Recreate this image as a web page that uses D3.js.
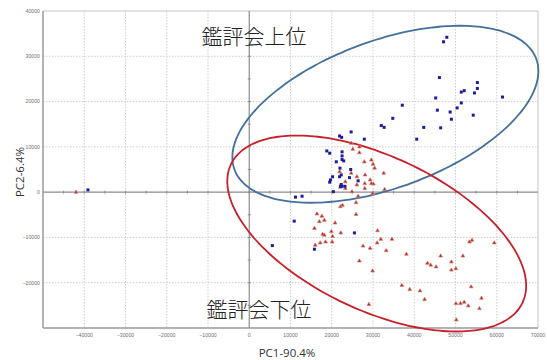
<!DOCTYPE html>
<html>
<head>
<meta charset="utf-8">
<script src="https://cdn.jsdelivr.net/npm/d3@7"></script>
<style>
  html, body { margin: 0; padding: 0; background: #fff; }
  svg { display: block; }
</style>
</head>
<body>
<svg id="chart" width="547" height="360"></svg>
<script>
// PCA score plot: PC1 vs PC2, upper-ranked vs lower-ranked samples
const xTicks = [-40000, -30000, -20000, -10000, 0, 10000, 20000, 30000, 40000, 50000, 60000, 70000];
const yTicks = [-20000, -10000, 0, 10000, 20000, 30000, 40000];
const xLabel = "PC1-90.4%";
const yLabel = "PC2-6.4%";
const groupLabels = ["鑑評会上位", "鑑評会下位"];

// Upper-ranked samples (PC1, PC2)
const upperScores = [
  [47100,33200],[47900,34200],[46100,25300],[55300,24200],[55300,22900],[52100,22400],
  [51400,22100],[54600,21900],[61400,21000],[45200,20800],[51400,19700],[37100,19200],
  [50400,18600],[45600,18100],[48700,17700],[54300,17000],[34800,16300],[49000,16100],
  [32000,14700],[32700,14300],[42300,14300],[46400,14200],[40600,11700],
  [24700,13300],[27900,11700],[21900,12400],[22400,12100],[18800,9100],[19500,8600],
  [22500,8900],[22500,8000],[21100,6700],[22500,7200],[22900,6900],[22000,5300],
  [24600,5000],[20200,3400],[19700,2700],[21900,3400],[22300,3800],[19500,2200],
  [24300,3200],[22100,1300],[22500,1300],[23200,1300],[22300,1700],[26400,2500],
  [20400,100],[12800,-900],[11200,-1100],[10900,-6400],[25500,-9000],[5600,-11800],
  [15800,-12600],[-39100,500]
];

// Lower-ranked samples (PC1, PC2)
const lowerScores = [
  [24700,10800],[26700,10000],[25100,9500],[26700,8700],[29600,7100],[30000,6200],
  [30400,5300],[32600,4200],[27900,6700],[28100,3800],[29300,2700],[30100,1800],
  [21900,4500],[24700,4200],[26100,3400],[23300,2300],[26100,1600],[24900,100],
  [22100,1100],[23300,800],[26400,-900],[28000,1900],[28000,800],[29600,1900],
  [29900,-300],[32800,600],[25900,-2300],[22100,-3200],[22600,-2900],[25900,-4900],
  [16400,-4800],[17600,-5300],[17000,-6500],[18200,-6200],[15800,-8000],[20800,-6800],
  [17800,-9300],[18200,-9500],[19900,-8700],[22200,-9000],[20200,-9800],[20100,-11000],
  [18500,-11000],[17200,-11200],[16000,-11700],[31100,-8500],[31000,-11200],[31900,-10400],
  [34600,-10400],[27600,-11900],[29300,-12400],[33200,-12900],[26700,-15200],[29900,-17400],
  [38100,-13700],[43200,-15700],[44000,-16100],[45300,-16500],[46400,-14100],[49000,-15400],
  [50100,-16900],[49000,-17200],[51800,-14100],[53400,-11000],[54000,-10600],[59400,-11200],
  [37000,-20600],[38900,-21500],[41400,-21800],[42500,-23700],[29000,-24800],[50100,-24600],
  [51200,-24600],[52100,-24300],[53100,-25100],[53800,-20900],[56300,-23400],[55800,-25700],
  [50200,-28200],[-42000,0]
];

// Group ellipses: centre and two conjugate semi-axis vectors, in score units
const upperEllipse = { c: [33000, 17200], u: [36580, 12210], v: [6140, -15260] };
const lowerEllipse = { c: [30900, -9140], u: [35330, -15290], v: [-7990, -15310] };

const svg = d3.select("#chart");
const x = d3.scaleLinear().domain([-50000, 70000]).range([43, 538]);
const y = d3.scaleLinear().domain([-30000, 40000]).range([328, 11]);

const tickFont = "Liberation Sans, Arial, sans-serif";

// dotted grid
const gridX = d3.range(-40000, 70000, 10000).filter(v => v !== 0);
const gridY = d3.range(-20000, 40000, 10000).filter(v => v !== 0);
svg.append("g").selectAll("line").data(gridX).join("line")
  .attr("x1", d => x(d)).attr("x2", d => x(d))
  .attr("y1", y(40000)).attr("y2", y(-30000))
  .attr("stroke", "#cfcfcf").attr("stroke-width", 1).attr("stroke-dasharray", "1.5,1.5");
svg.append("g").selectAll("line").data(gridY).join("line")
  .attr("x1", x(-50000)).attr("x2", x(70000))
  .attr("y1", d => y(d)).attr("y2", d => y(d))
  .attr("stroke", "#cfcfcf").attr("stroke-width", 1).attr("stroke-dasharray", "1.5,1.5");

// frame
svg.append("line").attr("x1", x(-50000)).attr("x2", x(70000)).attr("y1", y(40000)).attr("y2", y(40000))
  .attr("stroke", "#c4c4c4").attr("stroke-width", 1);
svg.append("line").attr("x1", x(70000)).attr("x2", x(70000)).attr("y1", y(40000)).attr("y2", y(-30000))
  .attr("stroke", "#c4c4c4").attr("stroke-width", 1);
svg.append("line").attr("x1", x(-50000)).attr("x2", x(-50000)).attr("y1", y(40000)).attr("y2", y(-30000))
  .attr("stroke", "#9a9a9a").attr("stroke-width", 1.5);
svg.append("line").attr("x1", x(-50000)).attr("x2", x(70000)).attr("y1", y(-30000)).attr("y2", y(-30000))
  .attr("stroke", "#9a9a9a").attr("stroke-width", 1.5);

// zero axes with minor ticks
svg.append("line").attr("x1", x(-50000)).attr("x2", x(70000)).attr("y1", y(0)).attr("y2", y(0))
  .attr("stroke", "#8c8c8c").attr("stroke-width", 1.2);
svg.append("line").attr("x1", x(0)).attr("x2", x(0)).attr("y1", y(40000)).attr("y2", y(-30000))
  .attr("stroke", "#8c8c8c").attr("stroke-width", 1.2);
svg.append("g").selectAll("line").data(d3.range(-45000, 70000, 5000)).join("line")
  .attr("x1", d => x(d)).attr("x2", d => x(d))
  .attr("y1", y(0) - 1.5).attr("y2", y(0) + 1.5)
  .attr("stroke", "#8c8c8c").attr("stroke-width", 1);
svg.append("g").selectAll("line").data(d3.range(-25000, 40000, 5000)).join("line")
  .attr("x1", x(0) - 1.5).attr("x2", x(0) + 1.5)
  .attr("y1", d => y(d)).attr("y2", d => y(d))
  .attr("stroke", "#8c8c8c").attr("stroke-width", 1);

// tick labels
svg.append("g").selectAll("text").data(xTicks).join("text")
  .attr("x", d => x(d)).attr("y", 337)
  .attr("text-anchor", "middle")
  .attr("font-family", tickFont).attr("font-size", 5.2).attr("fill", "#707070")
  .text(d => d3.format("d")(d));
svg.append("g").selectAll("text").data(yTicks).join("text")
  .attr("x", 40).attr("y", d => y(d) + 1.8)
  .attr("text-anchor", "end")
  .attr("font-family", tickFont).attr("font-size", 5.2).attr("fill", "#707070")
  .text(d => d3.format("d")(d));

// axis titles
svg.append("text").attr("x", 287).attr("y", 357)
  .attr("text-anchor", "middle")
  .attr("font-family", "Open Sans, Noto Sans, sans-serif").attr("font-size", 11.5).attr("fill", "#333")
  .text(xLabel);
svg.append("text")
  .attr("transform", "translate(24,172) rotate(-90)")
  .attr("text-anchor", "middle")
  .attr("font-family", "Open Sans, Noto Sans, sans-serif").attr("font-size", 11.5).attr("fill", "#333")
  .text(yLabel);

// ellipses
function ellipsePoints(e) {
  return d3.range(0, 361, 3).map(deg => {
    const t = deg * Math.PI / 180;
    return [e.c[0] + Math.cos(t) * e.u[0] + Math.sin(t) * e.v[0],
            e.c[1] + Math.cos(t) * e.u[1] + Math.sin(t) * e.v[1]];
  });
}
const ellipseLine = d3.line().x(d => x(d[0])).y(d => y(d[1])).curve(d3.curveCardinalClosed);
svg.append("path").attr("d", ellipseLine(ellipsePoints(upperEllipse).slice(0, -1)))
  .attr("fill", "none").attr("stroke", "#44709c").attr("stroke-width", 1.8);
svg.append("path").attr("d", ellipseLine(ellipsePoints(lowerEllipse).slice(0, -1)))
  .attr("fill", "none").attr("stroke", "#c8202a").attr("stroke-width", 1.8);

// points
const tri = d3.symbol().type(d3.symbolTriangle).size(6);
svg.append("g").selectAll("path").data(lowerScores).join("path")
  .attr("transform", d => `translate(${x(d[0])},${y(d[1])})`)
  .attr("d", tri)
  .attr("fill", "#9a2a2a").attr("stroke", "#e27a6a").attr("stroke-width", 0.7);
svg.append("g").selectAll("rect").data(upperScores).join("rect")
  .attr("x", d => x(d[0]) - 1.5).attr("y", d => y(d[1]) - 1.5)
  .attr("width", 3).attr("height", 3)
  .attr("fill", "#1c1c9c");

// group labels
svg.append("text").attr("x", 254).attr("y", 44)
  .attr("text-anchor", "middle")
  .attr("font-family", "Noto Sans CJK JP, sans-serif").attr("font-weight", 300)
  .attr("font-size", 21).attr("fill", "#222")
  .text(groupLabels[0]);
svg.append("text").attr("x", 259).attr("y", 317)
  .attr("text-anchor", "middle")
  .attr("font-family", "Noto Sans CJK JP, sans-serif").attr("font-weight", 300)
  .attr("font-size", 21).attr("fill", "#222")
  .text(groupLabels[1]);
</script>
</body>
</html>
